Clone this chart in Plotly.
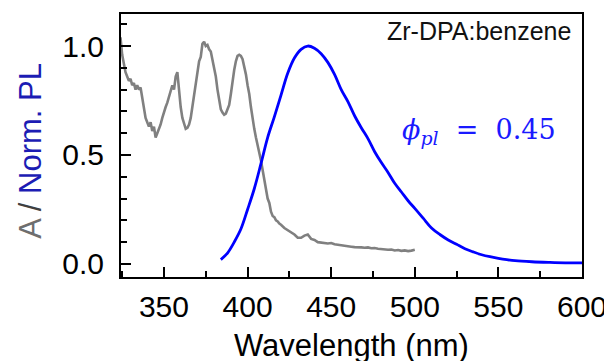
"""Zr-DPA:benzene absorption and normalised PL spectrum."""
import plotly.graph_objects as go

# absorption (grey)
abs_wl = list(range(324, 421)) + list(range(422, 501, 2))
abs_val = [
    1.04, 0.96, 0.92, 0.88, 0.86, 0.84, 0.85, 0.82, 0.83, 0.80,
    0.82, 0.80, 0.81, 0.76, 0.70, 0.67, 0.65, 0.63, 0.65, 0.61,
    0.63, 0.58, 0.60, 0.62, 0.64, 0.67, 0.70, 0.72, 0.74, 0.77,
    0.79, 0.82, 0.80, 0.86, 0.88, 0.79, 0.72, 0.67, 0.64, 0.62,
    0.625, 0.64, 0.67, 0.72, 0.78, 0.83, 0.88, 0.93, 0.95, 1.01,
    1.02, 1.00, 1.005, 0.985, 0.975, 0.94, 0.90, 0.86, 0.80, 0.75,
    0.71, 0.695, 0.685, 0.69, 0.71, 0.73, 0.78, 0.84, 0.89, 0.93,
    0.955, 0.96, 0.955, 0.94, 0.91, 0.87, 0.82, 0.78, 0.72, 0.66,
    0.62, 0.58, 0.55, 0.51, 0.475, 0.43, 0.37, 0.33, 0.30, 0.28,
    0.24, 0.22, 0.215, 0.20, 0.195, 0.185, 0.18,
    0.165, 0.155, 0.145, 0.135, 0.12, 0.12, 0.13, 0.135, 0.115, 0.11,
    0.10, 0.098, 0.097, 0.094, 0.096, 0.09, 0.088, 0.085, 0.083, 0.08,
    0.079, 0.077, 0.078, 0.076, 0.074, 0.076, 0.072, 0.073, 0.07, 0.068,
    0.069, 0.065, 0.066, 0.062, 0.064, 0.06, 0.062, 0.059, 0.061, 0.065,
]

# normalised PL (blue)
pl_wl = [384, 388, 392, 396, 400, 404, 408, 412, 416, 420, 424, 428, 432, 436,
         440, 444, 448, 452, 456, 460, 464, 468, 472, 476, 480, 484, 488, 492,
         496, 500, 505, 510, 515, 520, 525, 530, 535, 540, 545, 550, 555, 560,
         570, 580, 590, 600]
pl_val = [0.02, 0.05, 0.10, 0.16, 0.25, 0.345, 0.46, 0.58, 0.675, 0.775, 0.875,
          0.945, 0.985, 1.0, 0.99, 0.965, 0.925, 0.87, 0.80, 0.745, 0.68, 0.625,
          0.575, 0.515, 0.465, 0.42, 0.37, 0.33, 0.29, 0.255, 0.21, 0.165, 0.135,
          0.11, 0.09, 0.07, 0.055, 0.042, 0.033, 0.026, 0.02, 0.015, 0.01, 0.007,
          0.005, 0.005]

x_ticks = [350, 400, 450, 500, 550, 600]
y_ticks = [0.0, 0.5, 1.0]

fig = go.Figure()
fig.add_trace(go.Scatter(x=abs_wl, y=abs_val, mode="lines",
                         line=dict(color="#808080", width=2.6)))
fig.add_trace(go.Scatter(x=pl_wl, y=pl_val, mode="lines", line_shape="spline",
                         line=dict(color="#0000ff", width=2.8)))

axis_common = dict(
    showline=True, linecolor="black", linewidth=2, mirror=True,
    ticks="inside", ticklen=10, tickwidth=2, tickcolor="black",
    showgrid=False, zeroline=False, automargin=False,
    tickfont=dict(family="Liberation Sans, Arial", size=30, color="black"),
)

# page body has an 8px margin, so the figure is 8px smaller and margins shifted
fig.update_layout(
    width=604, height=353,
    margin=dict(l=113, r=30, t=6, b=84),
    plot_bgcolor="white", paper_bgcolor="white",
    showlegend=False,
    xaxis=dict(axis_common, range=[324.3, 600], tickvals=x_ticks,
               ticklabelstandoff=2,
               minor=dict(dtick=25, tick0=350, ticks="inside", ticklen=6,
                          tickwidth=2, tickcolor="black", showgrid=False)),
    yaxis=dict(axis_common, range=[-0.06, 1.147], tickvals=y_ticks,
               tickformat=".1f", ticklabelstandoff=9,
               minor=dict(dtick=0.1, tick0=0, ticks="inside", ticklen=6,
                          tickwidth=2, tickcolor="black", showgrid=False)),
    annotations=[
        dict(text="Wavelength (nm)", xref="paper", yref="paper", x=0.5, y=0,
             yshift=-49, xanchor="center", yanchor="top", showarrow=False,
             font=dict(family="Liberation Sans, Arial", size=31, color="black")),
        dict(text='<span style="color:#6e6e6e">A </span>'
                  '<span style="color:#404040">/ </span>'
                  '<span style="color:#1c1cb4">Norm. PL</span>',
             xref="paper", yref="paper", x=0, xshift=-90, y=0.48,
             xanchor="center", yanchor="middle", textangle=-90, showarrow=False,
             font=dict(family="Liberation Sans, Arial", size=31)),
        dict(text="Zr-DPA:benzene", xref="paper", yref="paper", x=1, y=1,
             xshift=-9, yshift=-1, xanchor="right", yanchor="top",
             showarrow=False,
             font=dict(family="Liberation Sans, Arial", size=25, color="#111111")),
        dict(text="<i>ϕ</i><sub><i>pl</i></sub>  =  0.45", xref="paper",
             yref="paper", x=0.948, y=0.555, xanchor="right", yanchor="middle",
             showarrow=False,
             font=dict(family="DejaVu Serif, serif", size=27, color="#1a1aff")),
    ],
)

fig.write_html("out.html")
